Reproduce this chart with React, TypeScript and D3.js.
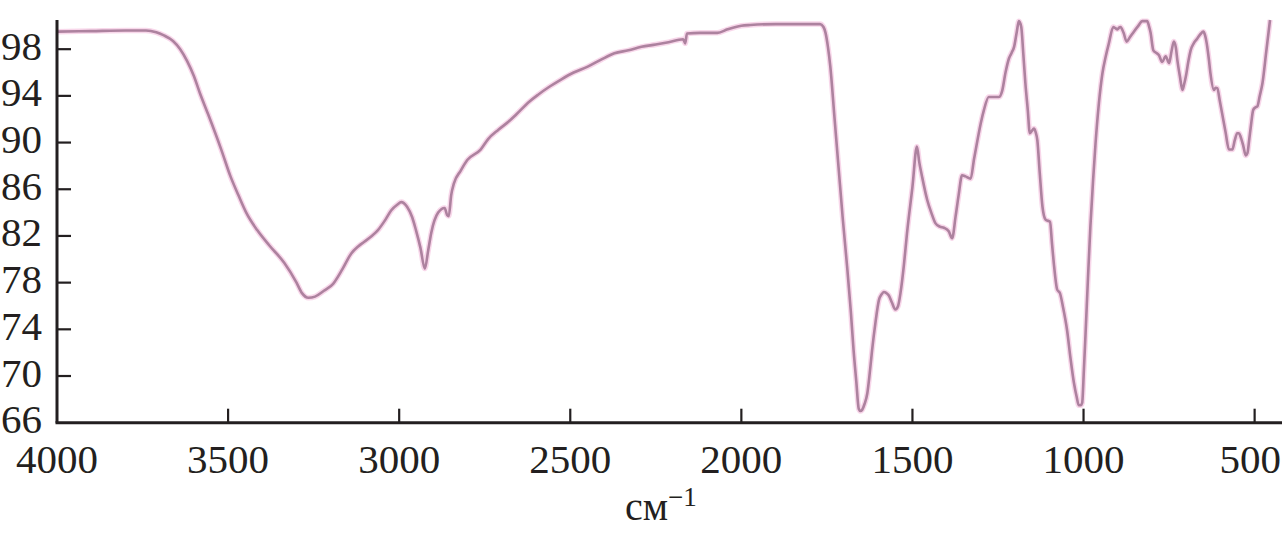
import React from "react";
import * as d3 from "d3";

const wavenumbers: number[] = [
  4000, 3900, 3800, 3740, 3710, 3689, 3661, 3640, 3620, 3600, 3582, 3558, 3520, 3493, 3470, 3447, 3415, 3380, 3336, 3300,
  3284, 3265, 3246, 3220, 3193, 3165, 3140, 3120, 3102, 3080, 3062, 3040, 3023, 3005, 2994, 2977, 2962, 2951, 2938, 2925,
  2915, 2906, 2886, 2867, 2860, 2855, 2848, 2840, 2820, 2801, 2762, 2740, 2710, 2680, 2658, 2620, 2594, 2560, 2527, 2490,
  2449, 2410, 2371, 2330, 2292, 2250, 2213, 2170, 2164, 2159, 2120, 2070, 2040, 2000, 1974, 1900, 1800, 1770, 1760, 1754,
  1747, 1740, 1728, 1716, 1704, 1691, 1680, 1672, 1664, 1657, 1652, 1647, 1640, 1632, 1625, 1618, 1608, 1598, 1590, 1584,
  1576, 1569, 1560, 1550, 1542, 1535, 1525, 1516, 1500, 1487, 1480, 1472, 1457, 1445, 1433, 1420, 1408, 1394, 1384, 1374,
  1365, 1355, 1345, 1330, 1320, 1310, 1300, 1291, 1277, 1260, 1247, 1238, 1228, 1218, 1210, 1203, 1195, 1189, 1182, 1176,
  1170, 1163, 1157, 1151, 1145, 1140, 1135, 1128, 1120, 1111, 1104, 1098, 1092, 1087, 1077, 1069, 1060, 1048, 1038, 1028,
  1020, 1014, 1008, 1004, 999, 994, 987, 980, 972, 965, 955, 945, 935, 926, 913, 907, 901, 896, 892, 883,
  874, 865, 853, 840, 828, 814, 809, 804, 796, 788, 780, 770, 760, 750, 743, 736, 730, 726, 718, 711,
  706, 701, 694, 687, 678, 668, 658, 650, 645, 640, 634, 629, 619, 614, 609, 602, 595, 585, 575, 565,
  558, 551, 546, 541, 533, 526, 521, 516, 511, 504, 498, 492, 485, 477, 466, 455,
];

const transmittance: number[] = [
  99.5, 99.55, 99.6, 99.6, 99.45, 99.2, 98.7, 98.0, 97.0, 95.7, 94.2, 92.4, 89.4, 87.1, 85.5, 84.0, 82.5, 81.2, 79.7, 78.0,
  77.1, 76.7, 76.8, 77.3, 77.9, 79.2, 80.5, 81.1, 81.5, 82.0, 82.5, 83.4, 84.2, 84.7, 84.9, 84.5, 83.6, 82.5, 81.0, 79.2,
  80.8, 82.3, 84.0, 84.4, 83.8, 83.7, 85.5, 86.5, 87.6, 88.5, 89.4, 90.3, 91.1, 91.8, 92.4, 93.5, 94.1, 94.8, 95.4, 96.0,
  96.5, 97.1, 97.65, 97.9, 98.2, 98.4, 98.6, 98.85, 98.5, 99.35, 99.4, 99.4, 99.7, 100.0, 100.07, 100.15, 100.15, 100.15, 99.9, 99.4,
  98.2, 96.5, 92.2, 87.9, 83.6, 79.4, 75.5, 72.2, 69.5, 67.2, 67.0, 67.1, 67.6, 68.5, 70.2, 72.2, 74.6, 76.5, 77.0, 77.2,
  77.1, 76.9, 76.3, 75.7, 76.0, 77.1, 79.5, 82.2, 86.2, 89.65, 88.3, 87.1, 85.1, 84.0, 83.1, 82.8, 82.7, 82.4, 81.8, 83.65,
  85.5, 87.2, 87.1, 86.9, 88.6, 90.2, 91.7, 92.8, 93.9, 93.9, 93.9, 94.4, 96.0, 97.2, 97.7, 98.2, 99.5, 100.4, 99.9, 97.6,
  95.1, 92.8, 90.8, 91.0, 91.2, 90.9, 90.2, 87.4, 84.5, 83.4, 83.3, 83.2, 81.3, 79.7, 77.4, 77.1, 75.9, 73.9, 71.5, 69.4,
  68.2, 67.5, 67.5, 67.7, 70.5, 73.7, 78.4, 82.8, 86.8, 89.9, 93.4, 95.9, 97.4, 98.5, 99.9, 99.8, 99.7, 99.85, 99.9, 99.4,
  98.65, 99.0, 99.5, 100.0, 100.4, 100.4, 100.0, 99.4, 97.9, 97.7, 97.5, 96.9, 97.4, 96.8, 97.8, 98.65, 98.1, 97.1, 95.6, 94.5,
  95.0, 95.65, 96.9, 97.9, 98.5, 98.9, 99.3, 99.5, 99.2, 98.5, 97.2, 95.9, 94.5, 94.7, 94.65, 93.6, 92.5, 90.9, 89.4, 89.4,
  90.2, 90.8, 90.8, 90.5, 89.7, 88.9, 89.1, 90.2, 91.4, 92.8, 93.0, 93.1, 94.0, 95.1, 97.8, 100.5,
];

const xTickValues: number[] = [4000, 3500, 3000, 2500, 2000, 1500, 1000, 500];
const yTickValues: number[] = [66, 70, 74, 78, 82, 86, 90, 94, 98];
const xAxisLabel = "см";
const xAxisUnitPower = "−1";

export default function App() {
  const W = 1284;
  const H = 534;
  const x = d3.scaleLinear().domain([4000, 420]).range([57, 1282]);
  const y = d3.scaleLinear().domain([66, 100.5]).range([422.7, 20]);
  const pts: [number, number][] = wavenumbers.map((w, i) => [w, transmittance[i]]);
  const line = d3
    .line<[number, number]>()
    .x((d) => x(d[0]))
    .y((d) => y(d[1]))
    .curve(d3.curveMonotoneX);
  const path = line(pts) || "";
  const axisColor = "#231f20";
  const font = "'Liberation Serif', 'Times New Roman', serif";
  const fs = 41;
  const x0 = x(4000);
  const y0 = y(66);
  const labelX = (v: number) => {
    const half = (String(v).length * fs * 0.5) / 2;
    return Math.min(x(v), W - half - 3);
  };
  return (
    <div style={{ position: "absolute", left: 0, top: 0 }}>
      <svg width={W} height={H} style={{ display: "block", background: "#fff" }}>
        <path d={path} fill="none" stroke="#f2b6d8" strokeWidth={5.5} strokeOpacity={0.55} strokeLinejoin="round" />
        <path d={path} fill="none" stroke="#ad829f" strokeWidth={2.6} strokeLinejoin="round" />
        <line x1={x0} x2={x0} y1={y(100.5)} y2={y0} stroke={axisColor} strokeWidth={3} />
        <line x1={x0 - 1.5} x2={1282} y1={y0} y2={y0} stroke={axisColor} strokeWidth={3} />
        {yTickValues.map((v) => (
          <g key={"y" + v}>
            {v !== 66 && <line x1={x0} x2={x0 + 14} y1={y(v)} y2={y(v)} stroke={axisColor} strokeWidth={2.2} />}
            <text x={42} y={y(v) + 10.5} textAnchor="end" fontFamily={font} fontSize={fs} fill={axisColor}>
              {v}
            </text>
          </g>
        ))}
        {xTickValues.map((v) => (
          <g key={"x" + v}>
            {v !== 4000 && <line x1={x(v)} x2={x(v)} y1={y0} y2={y0 - 14} stroke={axisColor} strokeWidth={2.2} />}
            <text x={labelX(v)} y={473} textAnchor="middle" fontFamily={font} fontSize={fs} fill={axisColor}>
              {v}
            </text>
          </g>
        ))}
        <text x={625} y={520} fontFamily={font} fontSize={40} fill={axisColor}>
          {xAxisLabel}
          <tspan fontSize={27} dy={-14}>
            {xAxisUnitPower}
          </tspan>
        </text>
      </svg>
    </div>
  );
}
